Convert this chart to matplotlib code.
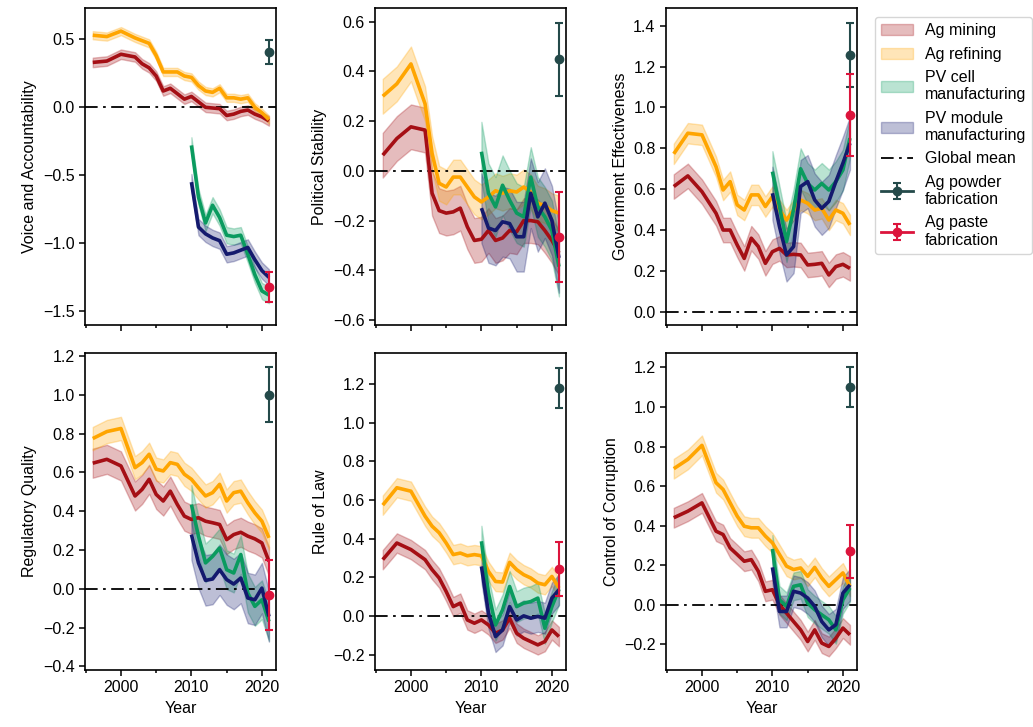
import matplotlib
matplotlib.use("Agg")
import matplotlib.pyplot as plt
import numpy as np

plt.rcParams['font.family'] = ['Liberation Sans', 'DejaVu Sans']
plt.rcParams['font.size'] = 11.5

YEARS = [1996, 1998, 2000, 2002, 2003, 2004, 2005, 2006, 2007, 2008, 2009, 2010,
         2011, 2012, 2013, 2014, 2015, 2016, 2017, 2018, 2019, 2020, 2021]
PV_YEARS = [2010, 2011, 2012, 2013, 2014, 2015, 2016, 2017, 2018, 2019, 2020, 2021]
POINT_YEAR = 2021

INDICATORS = ["Voice and Accountability", "Political Stability", "Government Effectiveness",
              "Regulatory Quality", "Rule of Law", "Control of Corruption"]

# ---- Ag mining ----
mining_va = [0.33, 0.34, 0.39, 0.37, 0.32, 0.29, 0.23, 0.12, 0.14, 0.10, 0.06, 0.08,
             0.04, 0.00, -0.005, -0.01, -0.06, -0.05, -0.03, -0.02, -0.05, -0.07, -0.10]
mining_ps = [0.063, 0.13, 0.177, 0.164, -0.09, -0.16, -0.17, -0.165, -0.15, -0.225, -0.28, -0.275,
             -0.24, -0.28, -0.27, -0.24, -0.245, -0.20, -0.20, -0.205, -0.24, -0.28, -0.33]
mining_ge = [0.613, 0.665, 0.588, 0.482, 0.40, 0.40, 0.327, 0.261, 0.36, 0.319, 0.237, 0.294,
             0.31, 0.278, 0.281, 0.278, 0.229, 0.232, 0.237, 0.18, 0.221, 0.232, 0.212]
mining_rq = [0.647, 0.667, 0.633, 0.478, 0.512, 0.564, 0.486, 0.452, 0.503, 0.434, 0.374, 0.357,
             0.366, 0.348, 0.34, 0.331, 0.253, 0.279, 0.291, 0.271, 0.257, 0.236, 0.141]
mining_rl = [0.291, 0.377, 0.343, 0.291, 0.239, 0.196, 0.126, 0.048, 0.066, -0.021, -0.038, -0.021,
             -0.047, -0.09, -0.073, -0.012, -0.09, -0.116, -0.133, -0.15, -0.133, -0.073, -0.107]
mining_cc = [0.44, 0.473, 0.515, 0.372, 0.355, 0.287, 0.254, 0.22, 0.228, 0.169, 0.068, 0.076,
             0.0, -0.042, -0.085, -0.127, -0.186, -0.127, -0.194, -0.211, -0.169, -0.118, -0.152]

# ---- Ag refining ----
refining_va = [0.53, 0.52, 0.56, 0.51, 0.49, 0.47, 0.38, 0.26, 0.26, 0.26, 0.23, 0.22,
               0.16, 0.12, 0.11, 0.14, 0.07, 0.07, 0.06, 0.07, 0.00, -0.04, -0.09]
refining_ps = [0.30, 0.35, 0.43, 0.27, 0.07, -0.05, -0.065, -0.025, -0.025, -0.065, -0.105, -0.125,
               -0.105, -0.08, -0.09, -0.08, -0.085, -0.065, -0.085, -0.13, -0.14, -0.16, -0.17]
refining_ge = [0.773, 0.874, 0.866, 0.71, 0.596, 0.637, 0.523, 0.498, 0.572, 0.572, 0.515, 0.564,
               0.498, 0.449, 0.498, 0.547, 0.531, 0.498, 0.506, 0.449, 0.498, 0.482, 0.425]
refining_rq = [0.774, 0.81, 0.826, 0.624, 0.65, 0.693, 0.616, 0.607, 0.65, 0.641, 0.59, 0.564,
               0.52, 0.478, 0.495, 0.538, 0.452, 0.495, 0.503, 0.443, 0.391, 0.348, 0.262]
refining_rl = [0.573, 0.663, 0.645, 0.516, 0.464, 0.43, 0.377, 0.317, 0.325, 0.311, 0.317, 0.311,
               0.23, 0.178, 0.175, 0.277, 0.239, 0.213, 0.196, 0.17, 0.161, 0.204, 0.144]
refining_cc = [0.688, 0.735, 0.806, 0.617, 0.583, 0.515, 0.448, 0.397, 0.389, 0.389, 0.347, 0.313,
               0.254, 0.195, 0.178, 0.186, 0.144, 0.189, 0.135, 0.093, 0.127, 0.161, 0.093]

# ---- PV cell manufacturing ----
cell_va = [-0.28, -0.66, -0.85, -0.72, -0.81, -0.94, -0.95, -0.94, -1.08, -1.23, -1.35, -1.38]
cell_ps = [0.077, -0.09, -0.145, -0.058, -0.118, -0.17, -0.185, -0.025, -0.145, -0.185, -0.24, -0.385]
cell_ge = [0.686, 0.515, 0.343, 0.50, 0.70, 0.628, 0.596, 0.628, 0.596, 0.637, 0.694, 0.85]
cell_rq = [0.434, 0.271, 0.133, 0.167, 0.21, 0.098, 0.081, 0.176, -0.022, -0.091, -0.057, -0.169]
cell_rl = [0.386, 0.118, -0.047, 0.031, 0.152, 0.048, 0.066, 0.074, 0.092, -0.064, 0.048, 0.138]
cell_cc = [0.282, 0.025, -0.008, 0.093, 0.101, 0.008, -0.025, -0.051, -0.076, -0.127, 0.025, 0.085]

# ---- PV module manufacturing ----
module_va = [-0.55, -0.88, -0.93, -0.96, -0.98, -1.08, -1.07, -1.05, -1.03, -1.12, -1.20, -1.25]
module_ps = [-0.15, -0.23, -0.24, -0.205, -0.212, -0.265, -0.265, -0.09, -0.185, -0.13, -0.20, -0.35]
module_ge = [0.58, 0.417, 0.278, 0.319, 0.613, 0.637, 0.547, 0.506, 0.54, 0.637, 0.727, 0.825]
module_rq = [0.279, 0.133, 0.043, 0.05, 0.098, 0.047, 0.024, 0.055, -0.048, -0.057, 0.003, -0.143]
module_rl = [0.256, 0.014, -0.107, -0.073, 0.048, -0.021, 0.0, -0.012, -0.003, -0.012, 0.092, 0.135]
module_cc = [0.189, -0.034, -0.034, 0.068, 0.059, 0.034, -0.008, -0.085, -0.127, -0.101, 0.059, 0.101]

# ---- band half-widths (uncertainty) ----
mining_hw = [0.035, 0.09, 0.06, 0.075, 0.05, 0.05]
refining_hw = [0.03, 0.07, 0.05, 0.06, 0.05, 0.05]
cell_hw = [0.06, 0.12, 0.10, 0.10, 0.08, 0.07]
module_hw = [0.06, 0.14, 0.13, 0.13, 0.08, 0.08]

# ---- Ag powder / paste fabrication (2021 point, error) ----
powder_val = [0.405, 0.448, 1.257, 1.00, 1.18, 1.099]
powder_err = [0.09, 0.145, 0.157, 0.142, 0.102, 0.101]
paste_val = [-1.32, -0.266, 0.962, -0.034, 0.242, 0.27]
paste_err = [0.11, 0.18, 0.20, 0.18, 0.139, 0.134]

YLIMS = [(-1.6, 0.73), (-0.62, 0.655), (-0.065, 1.487), (-0.419, 1.215), (-0.28, 1.36), (-0.33, 1.273)]

C_MINING = "#a50f15"
C_REFINING = "#ffa500"
C_CELL = "#0a9b5f"
C_MODULE = "#141a6e"
C_POWDER = "#244a4a"
C_PASTE = "#dc143c"

mining = [mining_va, mining_ps, mining_ge, mining_rq, mining_rl, mining_cc]
refining = [refining_va, refining_ps, refining_ge, refining_rq, refining_rl, refining_cc]
cell = [cell_va, cell_ps, cell_ge, cell_rq, cell_rl, cell_cc]
module = [module_va, module_ps, module_ge, module_rq, module_rl, module_cc]

fig = plt.figure(figsize=(10.33, 7.27), dpi=100)
lefts = [85 / 1033, 375 / 1033, 666 / 1033]
width = 191 / 1033
bottoms = [1 - 325 / 727, 1 - 670 / 727]
height = 317 / 727

handles = None
for i in range(6):
    r, c = divmod(i, 3)
    ax = fig.add_axes([lefts[c], bottoms[r], width, height])
    series = [
        ("Ag mining", YEARS, mining[i], mining_hw[i], C_MINING),
        ("Ag refining", YEARS, refining[i], refining_hw[i], C_REFINING),
        ("PV cell\nmanufacturing", PV_YEARS, cell[i], cell_hw[i], C_CELL),
        ("PV module\nmanufacturing", PV_YEARS, module[i], module_hw[i], C_MODULE),
    ]
    hs = []
    for lab, xs, ys, hw, col in series:
        ys = np.asarray(ys)
        h = ax.fill_between(xs, ys - hw, ys + hw, facecolor=col, alpha=0.28,
                            edgecolor=col, linewidth=1.0, label=lab)
        hs.append(h)
    for lab, xs, ys, hw, col in series:
        ax.plot(xs, ys, color=col, lw=2.6, solid_capstyle='butt', zorder=3)
    gl = ax.axhline(0, color="black", lw=1.3, ls=(0, (7, 3, 1.5, 3)), label="Global mean", zorder=2)
    e1 = ax.errorbar([POINT_YEAR], [powder_val[i]], yerr=[powder_err[i]], fmt='o-', color=C_POWDER,
                     ms=6, lw=2, elinewidth=1.5, capsize=3, capthick=1.5,
                     label="Ag powder\nfabrication", zorder=5)
    e2 = ax.errorbar([POINT_YEAR], [paste_val[i]], yerr=[paste_err[i]], fmt='o-', color=C_PASTE,
                     ms=6, lw=2, elinewidth=1.5, capsize=3, capthick=1.5,
                     label="Ag paste\nfabrication", zorder=5)
    if handles is None:
        handles = hs + [gl, e1, e2]
    ax.set_xlim(1994.9, 2022)
    ax.set_ylim(*YLIMS[i])
    ax.set_xticks([2000, 2010, 2020])
    ax.set_xticks([1995, 2005, 2015], minor=True)
    if r == 1:
        ax.set_xlabel("Year")
    else:
        ax.set_xticklabels([])
    ax.set_ylabel(INDICATORS[i])
    for s in ax.spines.values():
        s.set_linewidth(1.2)
    ax.tick_params(which='major', width=1.1, length=4, labelsize=11.5)
    ax.tick_params(which='minor', width=1.1, length=2.2)

labels = [h.get_label() for h in handles]
fig.legend(handles, labels, loc="upper left", bbox_to_anchor=(875 / 1033, 1 - 17 / 727),
           fontsize=11.5, frameon=True, edgecolor="#cccccc", handlelength=2.0,
           labelspacing=0.52, borderaxespad=0.0, handletextpad=0.7)

fig.savefig("out.png", dpi=100)
